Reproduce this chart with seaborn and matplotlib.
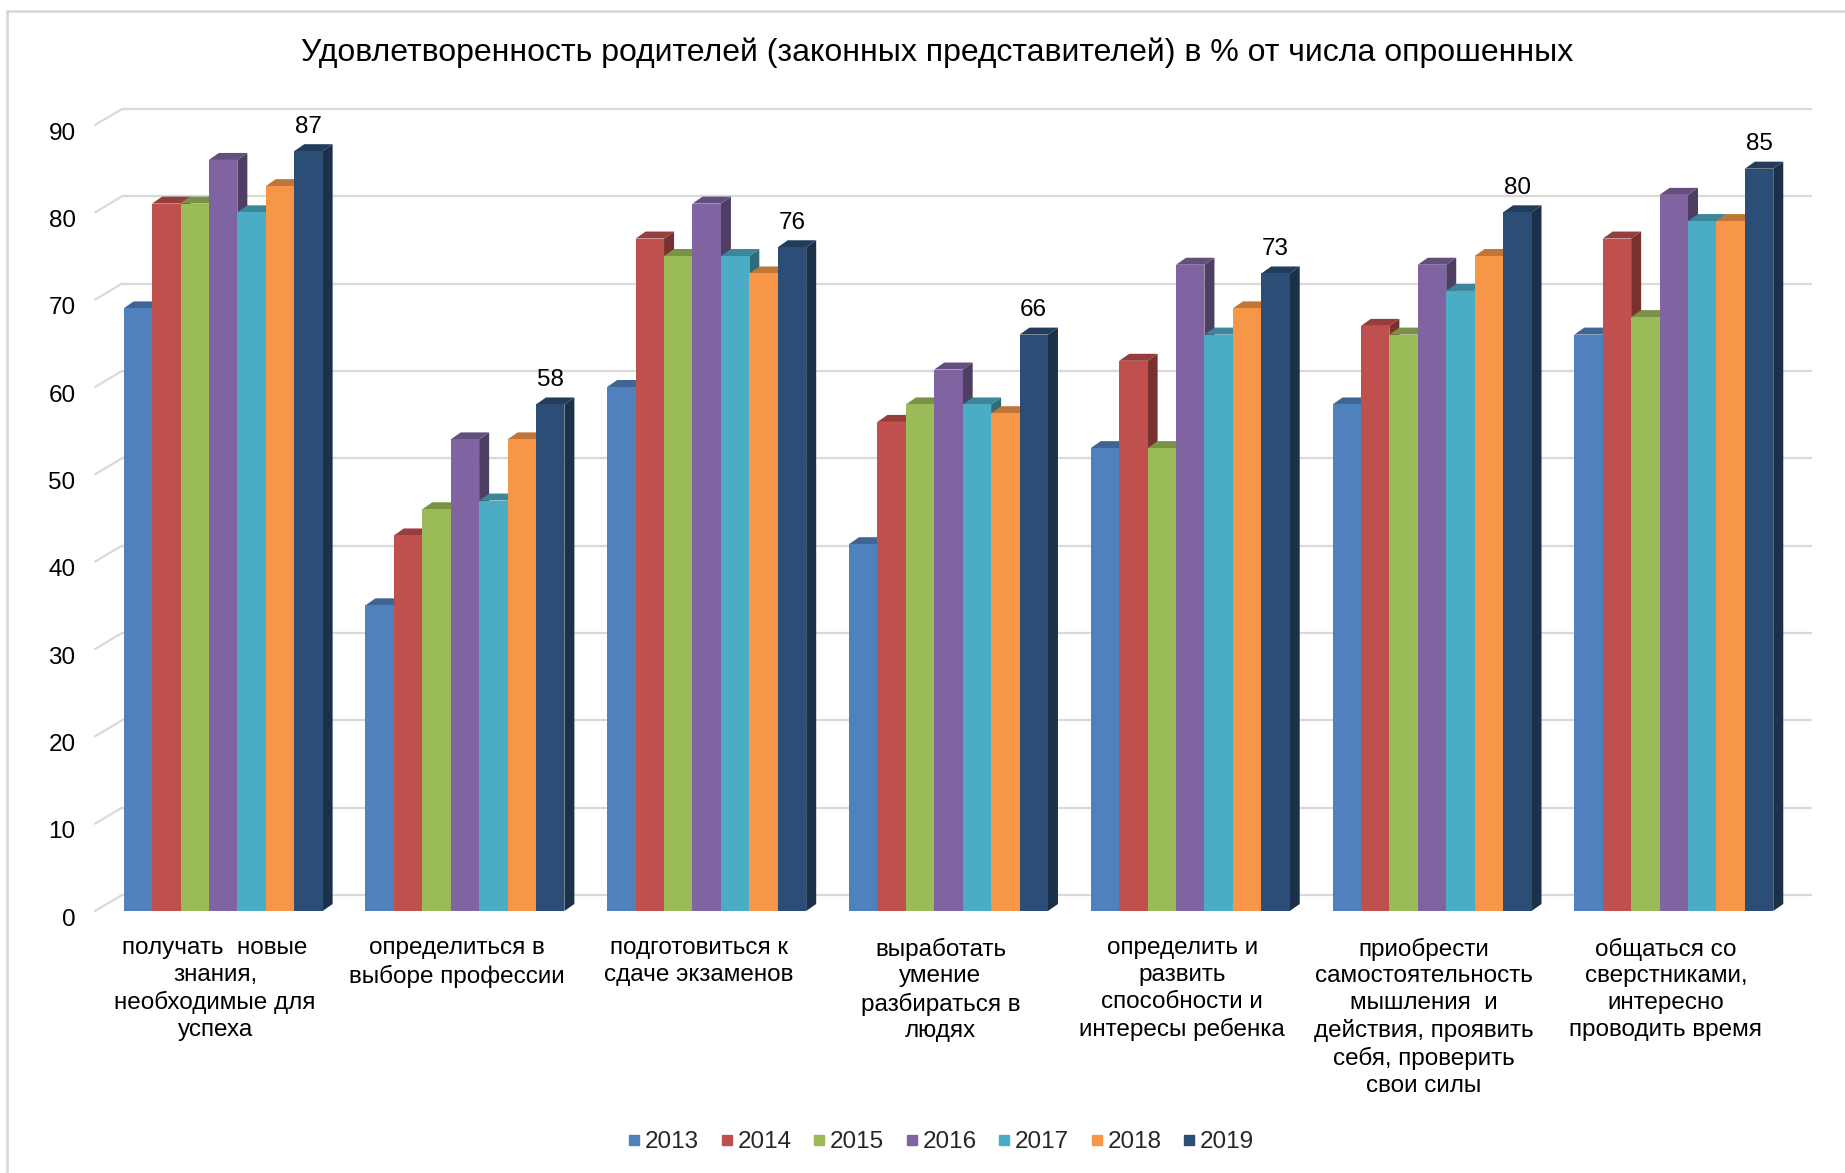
import numpy as np
import pandas as pd
import seaborn as sns
import matplotlib.pyplot as plt
import matplotlib.colors as mcolors
from matplotlib.patches import Polygon
from matplotlib.lines import Line2D
from matplotlib.transforms import ScaledTranslation

# ---- data -------------------------------------------------------------
categories = [
    "получать  новые\nзнания,\nнеобходимые для\nуспеха",
    "определиться в\nвыборе профессии",
    "подготовиться к\nсдаче экзаменов",
    "выработать\nумение\nразбираться в\nлюдях",
    "определить и\nразвить\nспособности и\nинтересы ребенка",
    "приобрести\nсамостоятельность\nмышления  и\nдействия, проявить\nсебя, проверить\nсвои силы",
    "общаться со\nсверстниками,\nинтересно\nпроводить время",
]
years = ["2013", "2014", "2015", "2016", "2017", "2018", "2019"]
v2013 = [69, 35, 60, 42, 53, 58, 66]
v2014 = [81, 43, 77, 56, 63, 67, 77]
v2015 = [81, 46, 75, 58, 53, 66, 68]
v2016 = [86, 54, 81, 62, 74, 74, 82]
v2017 = [80, 47, 75, 58, 66, 71, 79]
v2018 = [83, 54, 73, 57, 69, 75, 79]
v2019 = [87, 58, 76, 66, 73, 80, 85]
yticks = [0, 10, 20, 30, 40, 50, 60, 70, 80, 90]
title = "Удовлетворенность родителей (законных представителей) в % от числа опрошенных"

colors = ["#4F81BD", "#C0504D", "#9BBB59", "#8064A2", "#4BACC6", "#F79646", "#2C4D75"]

series = [v2013, v2014, v2015, v2016, v2017, v2018, v2019]
df = pd.DataFrame(
    [(c, y, v) for y, vals in zip(years, series) for c, v in zip(categories, vals)],
    columns=["category", "year", "value"],
)

# ---- figure -------------------------------------------------------------
sns.set_theme(style="white")
plt.rcParams["font.family"] = ["Liberation Sans", "DejaVu Sans"]

FW, FH, DPI = 1845, 1173, 100
FS = 17.5
fig = plt.figure(figsize=(FW / DPI, FH / DPI), dpi=DPI)
fig.patch.set_facecolor("white")

ax_l, ax_r, ax_b, ax_t = 95, 1785, 911, 125          # pixel box of the front plane
ax = fig.add_axes([ax_l / FW, (FH - ax_b) / FH, (ax_r - ax_l) / FW, (ax_b - ax_t) / FH])

sns.barplot(data=df, x="category", y="value", hue="year", order=categories,
            hue_order=years, palette=colors, saturation=1, width=0.823,
            errorbar=None, legend=False, linewidth=0, ax=ax)

XMIN, XMAX, YMAX = -0.53, 6.46, 90
ax.set_xlim(XMIN, XMAX)
ax.set_ylim(0, YMAX)
px_x = (ax_r - ax_l) / (XMAX - XMIN)     # pixels per x unit
px_y = (ax_b - ax_t) / YMAX              # pixels per y unit

# back wall gridlines, shifted in depth, plus the floor diagonals at left
wall_dx, wall_dy = 27 / px_x, 16 / px_y
grid_c = "#D9D9D9"
for v in yticks:
    ax.plot([XMIN + wall_dx, XMAX + wall_dx], [v + wall_dy, v + wall_dy],
            color=grid_c, lw=1.6, clip_on=False, zorder=0.5, solid_capstyle="butt")
    ax.plot([XMIN, XMIN + wall_dx], [v, v + wall_dy],
            color=grid_c, lw=1.6, clip_on=False, zorder=0.5)

# extruded bar faces (top and right side)
bar_dx, bar_dy = 10 / px_x, 7 / px_y
bars = sorted([p for p in ax.patches if p.get_width() > 0], key=lambda p: p.get_x())
for k, p in enumerate(bars):
    x, w, h = p.get_x(), p.get_width(), p.get_height()
    base = np.array(mcolors.to_rgb(p.get_facecolor()))
    z = 3 + k * 0.01
    p.set_zorder(z + 0.005)
    p.set_edgecolor("none")
    top = Polygon([(x, h), (x + w, h), (x + w + bar_dx, h + bar_dy), (x + bar_dx, h + bar_dy)],
                  closed=True, facecolor=base * 0.78, edgecolor="none", zorder=z, clip_on=False)
    side = Polygon([(x + w, 0), (x + w + bar_dx, bar_dy), (x + w + bar_dx, h + bar_dy), (x + w, h)],
                   closed=True, facecolor=base * 0.62, edgecolor="none", zorder=z, clip_on=False)
    ax.add_patch(side)
    ax.add_patch(top)

# value labels over the 2019 bars
last = [p for p in bars if np.allclose(mcolors.to_rgb(p.get_facecolor()), mcolors.to_rgb(colors[-1]))]
for p, v in zip(last, v2019):
    ax.text(p.get_x() + p.get_width() / 2, v + bar_dy + 6.5 / px_y, f"{v}",
            ha="center", va="bottom", fontsize=FS, color="black", zorder=10, clip_on=False)

# axes styling
for s in ax.spines.values():
    s.set_visible(False)
ax.set_xlabel("")
ax.set_ylabel("")
ax.set_yticks(yticks)
ax.set_yticklabels([str(t) for t in yticks])
ax.tick_params(axis="y", length=0, pad=14, labelsize=FS, labelcolor="black")
ax.tick_params(axis="x", length=0, pad=19, labelsize=FS, labelcolor="black")
ax.grid(False)
xshift = ScaledTranslation(-8 / DPI, 0, fig.dpi_scale_trans)
for lab in ax.get_xticklabels():
    lab.set_transform(lab.get_transform() + xshift)
    lab.set_linespacing(1.28)
yshift = ScaledTranslation(0, -6 / DPI, fig.dpi_scale_trans)
for lab in ax.get_yticklabels():
    lab.set_transform(lab.get_transform() + yshift)

# title
fig.text(937 / FW, 1 - 53 / FH, title, ha="center", va="center", fontsize=23, color="black")

# legend
handles = [Line2D([0], [0], marker="s", linestyle="none", markersize=7.5,
                  markerfacecolor=c, markeredgecolor=c) for c in colors]
fig.legend(handles, years, loc="center", bbox_to_anchor=(941 / FW, (FH - 1142) / FH),
           ncol=len(years), frameon=False, fontsize=FS, handlelength=0.5,
           handletextpad=0.2, columnspacing=0.88)

# chart frame (top and left edges)
fig.add_artist(Line2D([7 / FW, 1], [1 - 11 / FH, 1 - 11 / FH], color=grid_c, lw=2))
fig.add_artist(Line2D([7 / FW, 7 / FW], [0, 1 - 11 / FH], color=grid_c, lw=2))

fig.savefig("out.png", dpi=DPI)
